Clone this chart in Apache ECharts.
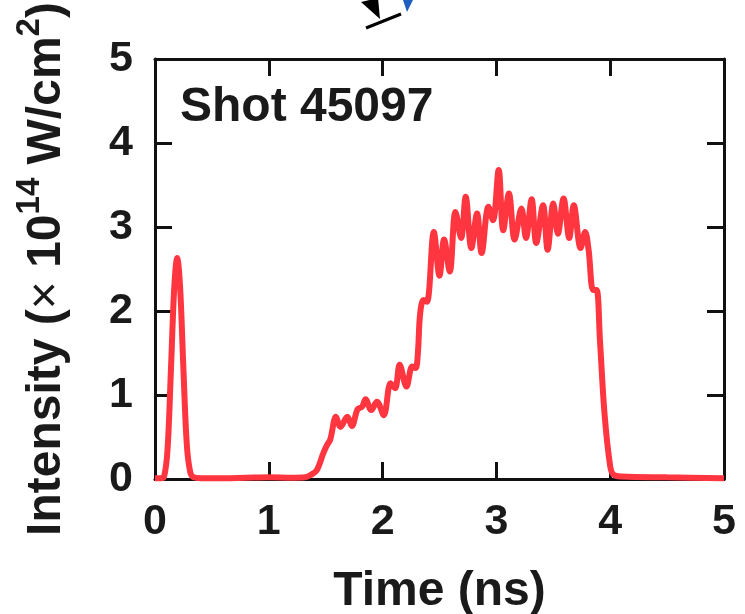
<!DOCTYPE html>
<html>
<head>
<meta charset="utf-8">
<script src="https://cdn.jsdelivr.net/npm/echarts@6/dist/echarts.min.js"></script>
<style>
html, body { margin: 0; padding: 0; background: #fff; }
#chart { width: 745px; height: 614px; }
</style>
</head>
<body>
<div id="chart"></div>
<script>
// time (ns) and intensity (x 10^14 W/cm^2)
var aTime = [0.00, 0.05, 0.08, 0.11, 0.14, 0.17, 0.195, 0.22, 0.25, 0.28, 0.31, 0.34, 0.40, 0.60, 0.80, 1.00, 1.20, 1.32,
	1.37, 1.42, 1.48, 1.51, 1.54, 1.59, 1.63, 1.69, 1.73, 1.78, 1.82, 1.85, 1.90, 1.95, 2.01, 2.07, 2.11, 2.15, 2.21, 2.26, 2.29,
	2.31, 2.33, 2.36, 2.39, 2.45, 2.50, 2.54, 2.59, 2.64, 2.69, 2.73, 2.78, 2.83, 2.87, 2.93, 2.97, 3.02, 3.06, 3.11, 3.16,
	3.22, 3.26, 3.31, 3.35, 3.41, 3.45, 3.50, 3.54, 3.59, 3.64, 3.68, 3.74, 3.78, 3.81, 3.85, 3.88, 3.91, 3.95, 4.00, 4.03,
	4.10, 4.50, 5.00];
var aIntensity = [0.01, 0.01, 0.03, 0.35, 1.30, 2.30, 2.63, 2.30, 1.30, 0.40, 0.08, 0.02, 0.01, 0.01, 0.015, 0.02, 0.015, 0.02,
	0.05, 0.10, 0.31, 0.40, 0.47, 0.74, 0.62, 0.74, 0.63, 0.83, 0.86, 0.95, 0.82, 0.92, 0.76, 1.14, 1.08, 1.36, 1.10, 1.34, 1.32,
	1.50, 1.97, 2.13, 2.11, 2.94, 2.42, 2.85, 2.47, 3.18, 2.87, 3.36, 2.75, 3.16, 2.69, 3.24, 3.08, 3.68, 2.96, 3.40, 2.85,
	3.22, 2.87, 3.33, 2.81, 3.26, 2.73, 3.28, 2.92, 3.34, 2.87, 3.26, 2.75, 2.94, 2.73, 2.25, 2.25, 1.65, 0.78, 0.15, 0.05,
	0.03, 0.02, 0.01];
var sShotLabel = "Shot 45097";

var sFont = "'Liberation Sans', Arial, sans-serif";

function buildSeriesData() {
	var aData = [];
	for (var i = 0; i < aTime.length; i++) {
		aData.push([aTime[i], aIntensity[i]]);
	}
	return aData;
}

function axisBase(pos, showLabel) {
	return {
		type: 'value',
		position: pos,
		min: 0,
		max: 5,
		interval: 1,
		splitLine: {show: false},
		axisLine: {show: true, onZero: false, lineStyle: {color: '#111', width: 3}},
		axisTick: {show: true, inside: true, length: 17, lineStyle: {color: '#111', width: 3}},
		axisLabel: {
			show: showLabel,
			color: '#1a1a1a',
			fontFamily: sFont,
			fontWeight: 'bold',
			fontSize: 43
		}
	};
}

var oXAxis = axisBase('bottom', true);
oXAxis.axisLabel.margin = 22;
oXAxis.name = 'Time (ns)';
oXAxis.nameLocation = 'middle';
oXAxis.nameGap = 89;
oXAxis.nameTextStyle = {color: '#1a1a1a', fontFamily: sFont, fontWeight: 'bold', fontSize: 48};

var oYAxis = axisBase('left', true);
oYAxis.axisLabel.margin = 22;
oYAxis.name = '{t|Intensity (}{x|×}{t| 10}{s|14}{t| W/cm}{s|2}{t|)}';
oYAxis.nameLocation = 'middle';
oYAxis.nameRotate = 90;
oYAxis.nameGap = 84;
oYAxis.nameTextStyle = {
	color: '#1a1a1a',
	fontFamily: sFont,
	fontWeight: 'bold',
	fontSize: 48,
	rich: {
		t: {fontFamily: sFont, fontWeight: 'bold', fontSize: 48, color: '#1a1a1a', lineHeight: 58, verticalAlign: 'bottom'},
		x: {fontFamily: sFont, fontWeight: 'normal', fontSize: 48, color: '#1a1a1a', lineHeight: 58, verticalAlign: 'bottom'},
		s: {fontFamily: sFont, fontWeight: 'bold', fontSize: 33, color: '#1a1a1a', lineHeight: 58, verticalAlign: 'top'}
	}
};

var oChartOpt = {
	backgroundColor: '#fff',
	animation: false,
	grid: {left: 155, right: 21, top: 59, bottom: 135, containLabel: false, outerBoundsMode: 'none'},
	xAxis: [oXAxis, axisBase('top', false)],
	yAxis: [oYAxis, axisBase('right', false)],
	series: [{
		type: 'line',
		xAxisIndex: 0,
		yAxisIndex: 0,
		data: buildSeriesData(),
		smooth: 0.35,
		symbol: 'none',
		lineStyle: {color: '#ff3540', width: 6}
	}],
	graphic: [
		{
			type: 'text',
			left: 180,
			top: 84,
			style: {text: sShotLabel, fill: '#1a1a1a', font: 'bold 48px ' + sFont}
		},
		// cropped arrow at the top edge
		{type: 'line', shape: {x1: 366, y1: 28, x2: 401, y2: 14}, style: {stroke: '#000', lineWidth: 3}},
		{type: 'polygon', shape: {points: [[361, 2], [378, -2], [380, 19]]}, style: {fill: '#000'}},
		{type: 'polygon', shape: {points: [[403, 0], [413, 0], [407, 12]]}, style: {fill: '#1f5fc0'}}
	]
};

var oChart = echarts.init(document.getElementById('chart'));
oChart.setOption(oChartOpt);
</script>
</body>
</html>
